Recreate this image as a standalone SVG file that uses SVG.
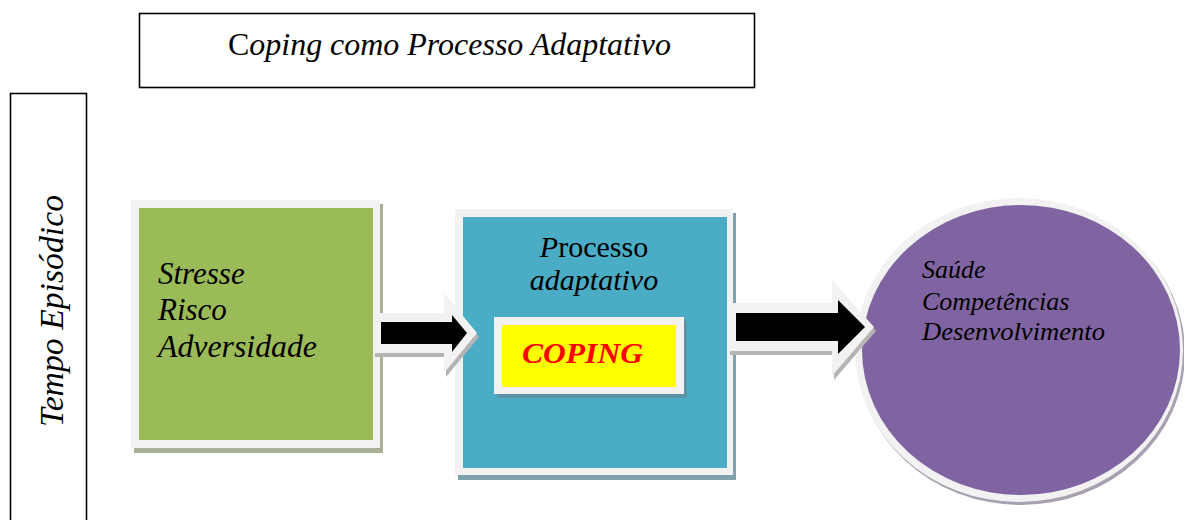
<svg xmlns="http://www.w3.org/2000/svg" width="1184" height="520" viewBox="0 0 1184 520" font-family="Liberation Serif, serif">
<style>
.t{font-family:"Liberation Serif",serif;font-style:italic;fill:#000}
.up{font-style:normal}
.frame{fill:#fff;stroke:#000;stroke-width:1.6}
.ring{fill:#f2f2f2}
.aw{fill:#f2f2f2}
.ab{fill:#000}
.ashadow{fill:#b4b4b4}
</style>
<rect width="1184" height="520" fill="#fff"/>
<g id="title">
<rect class="frame" x="139.5" y="13.5" width="615" height="74"/>
<text class="t" font-family="Liberation Serif" font-style="italic" x="228" y="55" font-size="32" textLength="443" lengthAdjust="spacingAndGlyphs"><tspan class="up" font-style="normal">C</tspan>oping como Processo Adaptativo</text>
</g>
<g id="tempo">
<rect class="frame" x="10.5" y="93.5" width="76" height="440"/>
<text class="t" font-family="Liberation Serif" font-style="italic" font-size="33" transform="translate(63 427) rotate(-90)" textLength="232" lengthAdjust="spacingAndGlyphs">Tempo Episódico</text>
</g>
<g id="stresse">
<rect x="134" y="204" width="249" height="249" fill="#a8b196"/>
<rect class="ring" x="131" y="200" width="249" height="248"/>
<rect x="139" y="208" width="234" height="232" fill="#9bbb59"/>
<text class="t" font-family="Liberation Serif" font-style="italic" font-size="31" x="158" y="284">Stresse</text>
<text class="t" font-family="Liberation Serif" font-style="italic" font-size="31" x="158" y="320">Risco</text>
<text class="t" font-family="Liberation Serif" font-style="italic" font-size="31" x="158" y="357" textLength="159" lengthAdjust="spacingAndGlyphs">Adversidade</text>
</g>
<g id="processo">
<rect x="458" y="213" width="278" height="267" fill="#7fa3ad"/>
<rect class="ring" x="455" y="209" width="278" height="266"/>
<rect x="463" y="217" width="264" height="251" fill="#4bacc6"/>
<text class="t" font-family="Liberation Serif" font-style="italic" font-size="30" x="594" y="257" text-anchor="middle">P<tspan class="up" font-style="normal">rocesso</tspan></text>
<text class="t" font-family="Liberation Serif" font-style="italic" font-size="30" x="594" y="290" text-anchor="middle">adaptativo</text>
<g id="coping">
<rect x="497" y="321" width="190" height="77" fill="#5a94a4"/>
<rect class="ring" x="494" y="317" width="190" height="77"/>
<rect x="502" y="325" width="174" height="62" fill="#ffff00"/>
<text class="t" font-family="Liberation Serif" font-style="italic" font-size="30" font-weight="bold" x="522" y="363" style="fill:#ff0000" textLength="121" lengthAdjust="spacingAndGlyphs">COPING</text>
</g>
</g>
<g id="saude">
<ellipse cx="1021" cy="353" rx="164" ry="152" fill="#a8a0b0"/>
<ellipse class="ring" cx="1019" cy="350" rx="164" ry="152"/>
<ellipse cx="1021" cy="350" rx="159" ry="145" fill="#8064a2"/>
<text class="t" font-family="Liberation Serif" font-style="italic" font-size="26" x="922" y="278">Saúde</text>
<text class="t" font-family="Liberation Serif" font-style="italic" font-size="26" x="922" y="310">Competências</text>
<text class="t" font-family="Liberation Serif" font-style="italic" font-size="26" x="922" y="340" textLength="183" lengthAdjust="spacingAndGlyphs">Desenvolvimento</text>
</g>
<g id="connectors">
<polygon class="ashadow" points="373,313 444,313 444,293 477,333 444,373 444,353 373,353" transform="translate(2 4)"/>
<polygon class="aw" points="373,313 444,313 444,293 477,333 444,373 444,353 373,353"/>
<polygon class="ab" points="381,322 452,322 452,315 467,333 452,352 452,344 381,344"/>
<polygon class="ashadow" points="728,303 832,303 832,280 874,327 832,376 832,351 728,351" transform="translate(2 4)"/>
<polygon class="aw" points="728,303 832,303 832,280 874,327 832,376 832,351 728,351"/>
<polygon class="ab" points="736,313 838,313 838,300 865,327 838,354 838,341 736,341"/>
</g>
</svg>
